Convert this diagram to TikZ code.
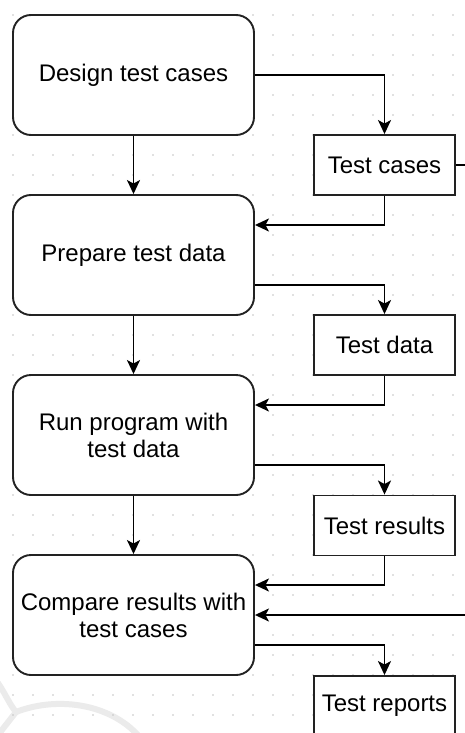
\documentclass[tikz,border=0pt]{standalone}
\usepackage{fontspec}
\setmainfont{Liberation Sans}
\usetikzlibrary{arrows.meta}
\definecolor{dotc}{HTML}{C4C4C4}
\definecolor{wmark}{HTML}{EBEBEB}
\definecolor{edge}{HTML}{222222}
\tikzset{
  procbox/.style={draw=edge, line width=1.9pt, fill=white, rounded corners=18pt,
    minimum width=241pt, minimum height=120pt, inner sep=0pt, align=center,
    font=\fontsize{24}{27}\selectfont},
  docbox/.style={draw=edge, line width=1.9pt, fill=white,
    minimum width=141pt, minimum height=60pt, inner sep=0pt, align=center,
    font=\fontsize{24}{27}\selectfont},
  flow/.style={draw=black, line width=1.9pt,
    -{Stealth[length=14pt,width=13pt,inset=3.5pt]}},
  plainline/.style={draw=black, line width=1.9pt}
}
\begin{document}
\begin{tikzpicture}[x=1pt,y=-1pt]
\path[use as bounding box, clip] (0,0) rectangle (465,733);
\fill[white] (0,0) rectangle (465,733);
% faint watermark
\draw[wmark, line width=6pt, line cap=round] (-2,683) .. controls (6,695) and (10,705) .. (16,712);
\draw[wmark, line width=6pt, line cap=round] (16,712) .. controls (60,695) and (115,705) .. (142,740);
\draw[wmark, line width=6pt, line cap=round] (16,712) -- (-2,735);
% dotted grid
\foreach \x in {13,33,...,473} {
  \foreach \y in {15,35,...,735} {
    \fill[dotc] (\x,\y) circle (0.8pt);
  }
}
% process boxes
\node[procbox] (b1) at (133.5,75) {Design test cases};
\node[procbox] (b2) at (133.5,255) {Prepare test data};
\node[procbox] (b3) at (133.5,435) {Run program with\\test data};
\node[procbox] (b4) at (133.5,615) {Compare results with\\test cases};
% document boxes
\node[docbox] (tc) at (384.5,165) {Test cases};
\node[docbox] (td) at (384.5,345) {Test data};
\node[docbox] (tr) at (384.5,525.5) {Test results};
\node[docbox] (tp) at (384.5,706) {Test reports};
% main flow
\draw[flow] (b1.south) -- (b2.north);
\draw[flow] (b2.south) -- (b3.north);
\draw[flow] (b3.south) -- (b4.north);
% outputs
\draw[flow] (b1.east) -| (tc.north);
\draw[flow] ([yshift=-30pt]b2.east) -| (td.north);
\draw[flow] ([yshift=-30pt]b3.east) -| (tr.north);
\draw[flow] ([yshift=-30pt]b4.east) -| (tp.north);
% inputs
\draw[flow] (tc.south) |- ([yshift=30pt]b2.east);
\draw[flow] (td.south) |- ([yshift=30pt]b3.east);
\draw[flow] (tr.south) |- ([yshift=30pt]b4.east);
% feedback from test cases (leaves the picture on the right)
\coordinate (fbout) at (470,165);
\coordinate (fbin) at (470,615);
\draw[plainline] (tc.east) -- (fbout);
\draw[flow] (fbin) -- (b4.east);
\end{tikzpicture}
\end{document}
